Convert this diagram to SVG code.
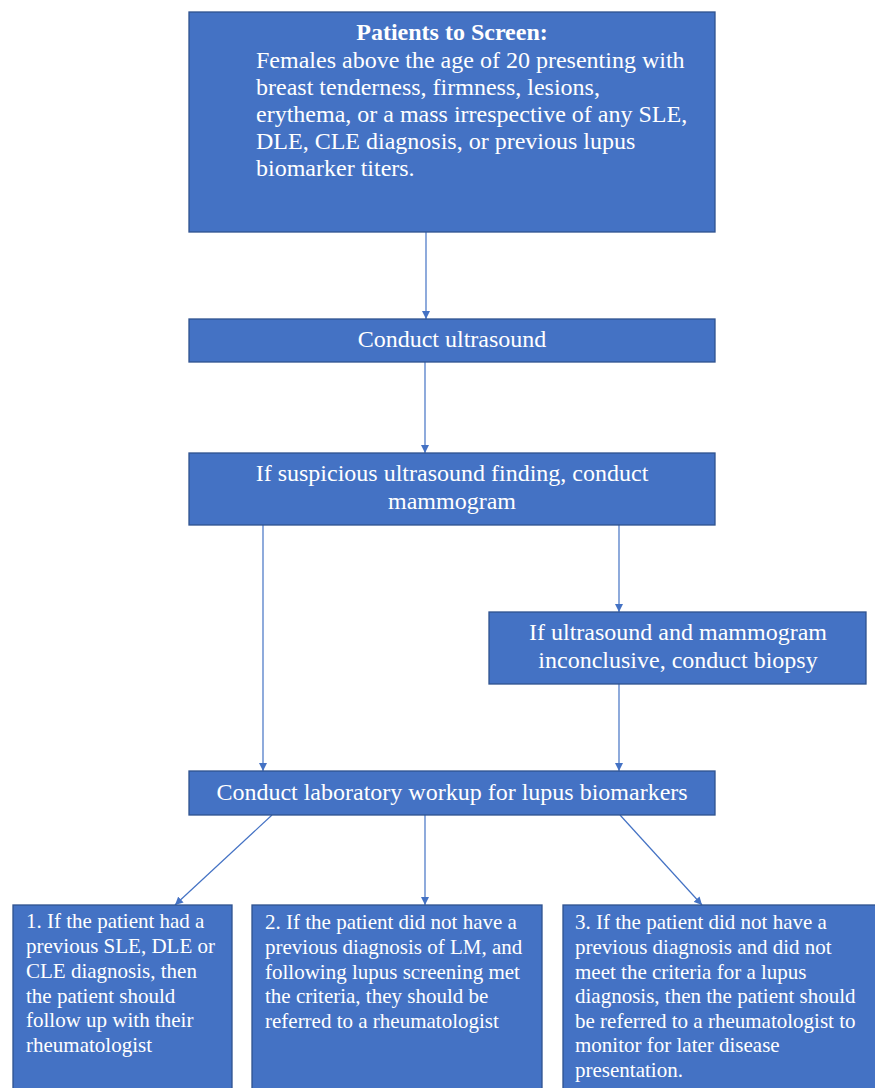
<svg xmlns="http://www.w3.org/2000/svg" width="875" height="1088" viewBox="0 0 875 1088">
<defs>
<marker id="arr" viewBox="0 0 10 10" refX="10" refY="5" markerWidth="8" markerHeight="8" markerUnits="userSpaceOnUse" orient="auto">
<path d="M0,0 L10,5 L0,10 z" fill="#4472C4"/>
</marker>
<style>
.box{fill:#4472C4;stroke:#2F528F;stroke-width:1.3}
text{fill:#ffffff}
.t{font-size:24px}
.c{text-anchor:middle}
.b{font-weight:bold}
.s{font-size:21px}
.ln{stroke:#4472C4;stroke-width:1.2;fill:none;marker-end:url(#arr)}
</style>
</defs>
<rect width="875" height="1088" fill="#ffffff"/>
<g id="connectors">
<line class="ln" x1="426" y1="232" x2="426" y2="319"/>
<line class="ln" x1="425" y1="362" x2="425" y2="453"/>
<line class="ln" x1="263" y1="525" x2="263" y2="771"/>
<line class="ln" x1="619" y1="525" x2="619" y2="612"/>
<line class="ln" x1="619" y1="684" x2="619" y2="771"/>
<line class="ln" x1="272" y1="815" x2="175" y2="905"/>
<line class="ln" x1="425" y1="815" x2="425" y2="905"/>
<line class="ln" x1="620" y1="815" x2="702" y2="905"/>
</g>
<g font-family="Liberation Serif, Times New Roman, DejaVu Serif, serif">
<g id="screen">
<rect class="box" x="189" y="12" width="526" height="220"/>
<text class="t c b" x="452" y="40">Patients to Screen:</text>
<text class="t" x="256" y="68">Females above the age of 20 presenting with</text>
<text class="t" x="256" y="95">breast tenderness, firmness, lesions,</text>
<text class="t" x="256" y="122">erythema, or a mass irrespective of any SLE,</text>
<text class="t" x="256" y="149">DLE, CLE diagnosis, or previous lupus</text>
<text class="t" x="256" y="176">biomarker titers.</text>
</g>
<g id="ultrasound">
<rect class="box" x="189" y="319" width="526" height="43"/>
<text class="t c" x="452" y="347">Conduct ultrasound</text>
</g>
<g id="mammogram">
<rect class="box" x="189" y="453" width="526" height="72"/>
<text class="t c" x="452" y="481">If suspicious ultrasound finding, conduct</text>
<text class="t c" x="452" y="508.5">mammogram</text>
</g>
<g id="biopsy">
<rect class="box" x="489" y="612" width="377" height="72"/>
<text class="t c" x="678" y="640">If ultrasound and mammogram</text>
<text class="t c" x="678" y="668">inconclusive, conduct biopsy</text>
</g>
<g id="lab">
<rect class="box" x="189" y="771" width="526" height="44"/>
<text class="t c" x="452" y="799.5">Conduct laboratory workup for lupus biomarkers</text>
</g>
<g id="outcome1">
<rect class="box" x="13" y="905" width="219" height="190"/>
<text class="s" x="26" y="928">1. If the patient had a</text>
<text class="s" x="26" y="953">previous SLE, DLE or</text>
<text class="s" x="26" y="978">CLE diagnosis, then</text>
<text class="s" x="26" y="1002.5">the patient should</text>
<text class="s" x="26" y="1027">follow up with their</text>
<text class="s" x="26" y="1051.5">rheumatologist</text>
</g>
<g id="outcome2">
<rect class="box" x="252" y="905" width="290" height="190"/>
<text class="s" x="265" y="929">2. If the patient did not have a</text>
<text class="s" x="265" y="954">previous diagnosis of LM, and</text>
<text class="s" x="265" y="978.5">following lupus screening met</text>
<text class="s" x="265" y="1003">the criteria, they should be</text>
<text class="s" x="265" y="1027.5">referred to a rheumatologist</text>
</g>
<g id="outcome3">
<rect class="box" x="563" y="905" width="320" height="190"/>
<text class="s" x="575" y="929">3. If the patient did not have a</text>
<text class="s" x="575" y="954">previous diagnosis and did not</text>
<text class="s" x="575" y="978.5">meet the criteria for a lupus</text>
<text class="s" x="575" y="1003">diagnosis, then the patient should</text>
<text class="s" x="575" y="1027.5">be referred to a rheumatologist to</text>
<text class="s" x="575" y="1052">monitor for later disease</text>
<text class="s" x="575" y="1076.5">presentation.</text>
</g>
</g>
</svg>
